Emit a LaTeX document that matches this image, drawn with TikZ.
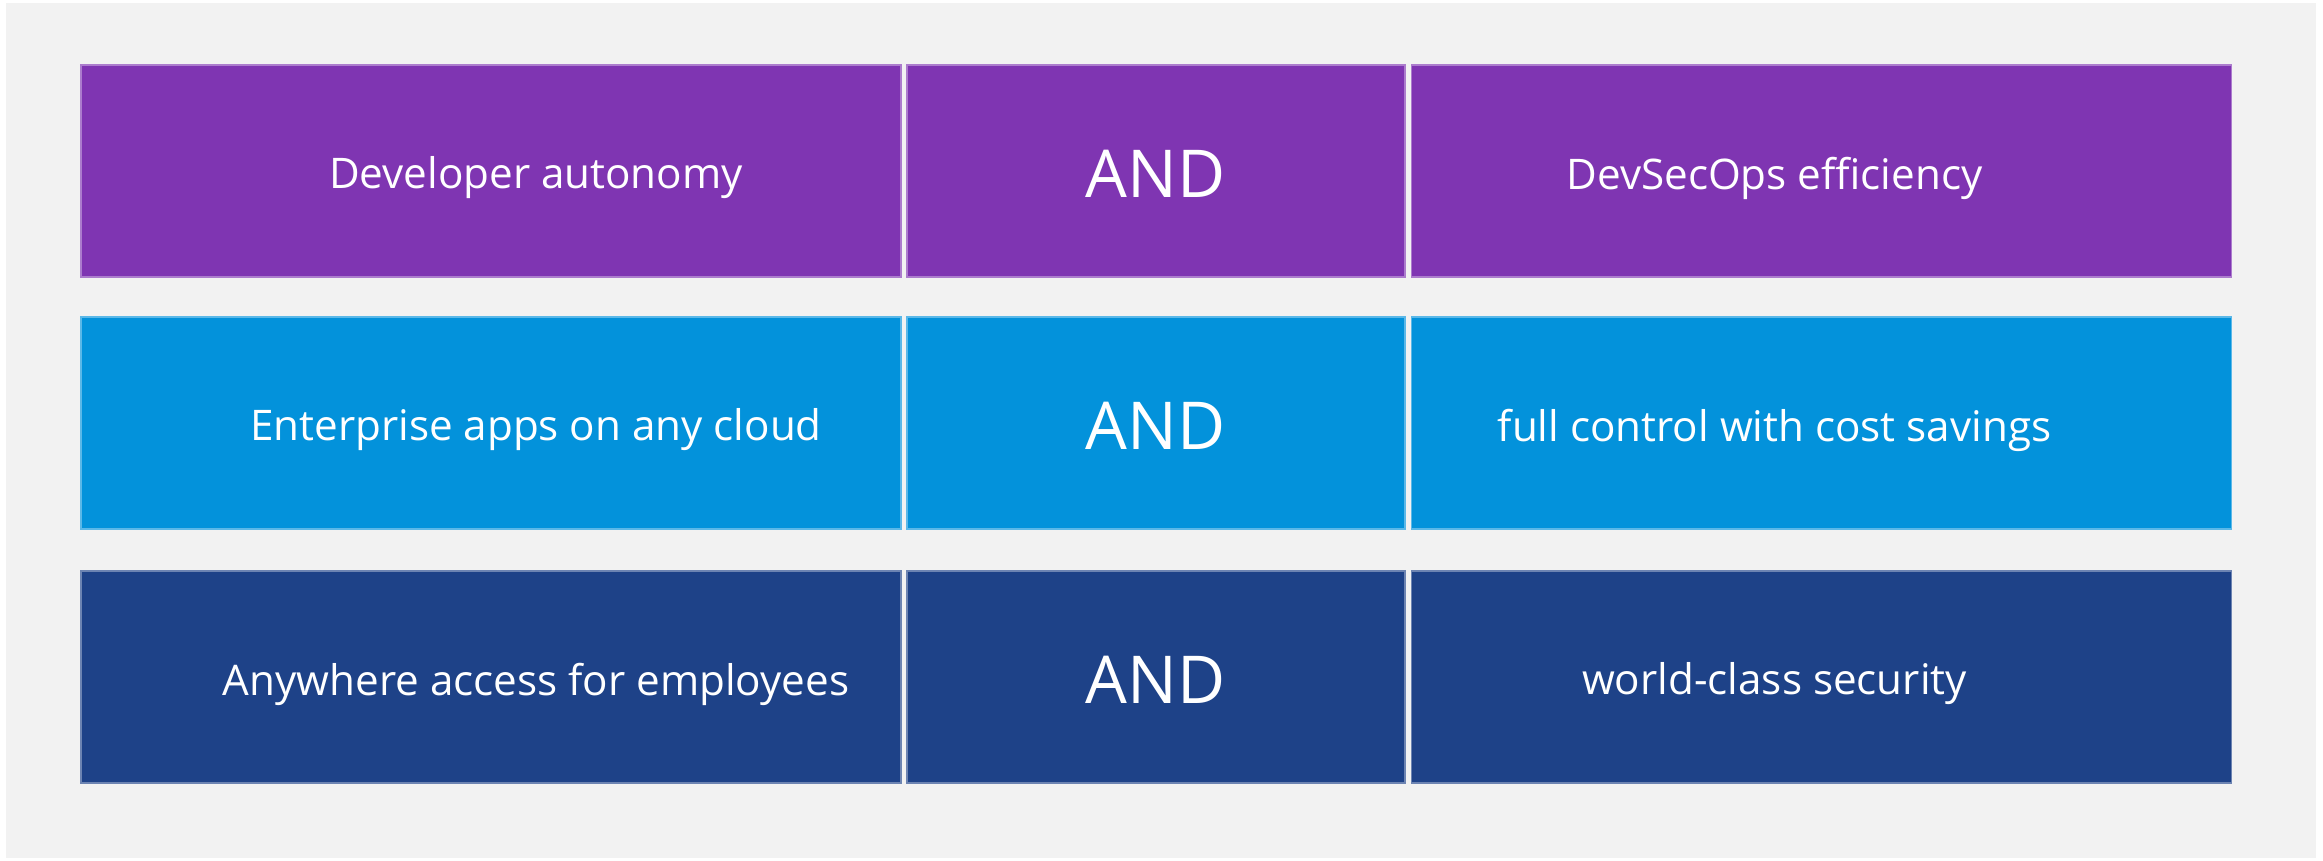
\documentclass[tikz,border=0pt]{standalone}
\usepackage{fontspec}
\setmainfont{Open Sans}
\usetikzlibrary{positioning}
\definecolor{rowpurple}{HTML}{7F35B2}
\definecolor{rowblue}{HTML}{0392DB}
\definecolor{rownavy}{HTML}{1E4288}
\definecolor{panel}{HTML}{F2F2F2}
\tikzset{
cell/.style={fill=#1, draw=white!35!#1, line width=0.5pt, minimum height=2.12cm, inner sep=0pt},
word/.style={text=white, font=\fontsize{12}{14}\selectfont},
andword/.style={text=white, font=\fontsize{18.8}{22}\selectfont}
}

\begin{document}
\begin{tikzpicture}
\useasboundingbox (0,0) rectangle (23.23,8.61);
\fill[white] (0,0) rectangle (23.23,8.61);
\fill[panel] (0.06,0.03) rectangle (23.16,8.58); % grey panel
\foreach \n/\y/\c/\l/\r in {1/6.90/rowpurple/Developer autonomy/DevSecOps efficiency,
  2/4.38/rowblue/Enterprise apps on any cloud/full control with cost savings,
  3/1.84/rownavy/Anywhere access for employees/world-class security} % edit here for the rows
{
\node[cell=\c, minimum width=8.20cm] (left\n) at (4.91,\y) {};
\node[cell=\c, minimum width=4.98cm, right=0.04cm of left\n] (mid\n) {};
\node[cell=\c, minimum width=8.20cm, right=0.05cm of mid\n] (right\n) {};
\node[word] (ltext\n) at ([xshift=0.45cm,yshift=-0.07cm]left\n.center) {\l};
\node[andword] (and\n) at ([yshift=-0.03cm]mid\n.center) {AND};
\node[word] (rtext\n) at ([xshift=-0.47cm,yshift=-0.07cm]right\n.center) {\r};
}
\end{tikzpicture}
\end{document}
